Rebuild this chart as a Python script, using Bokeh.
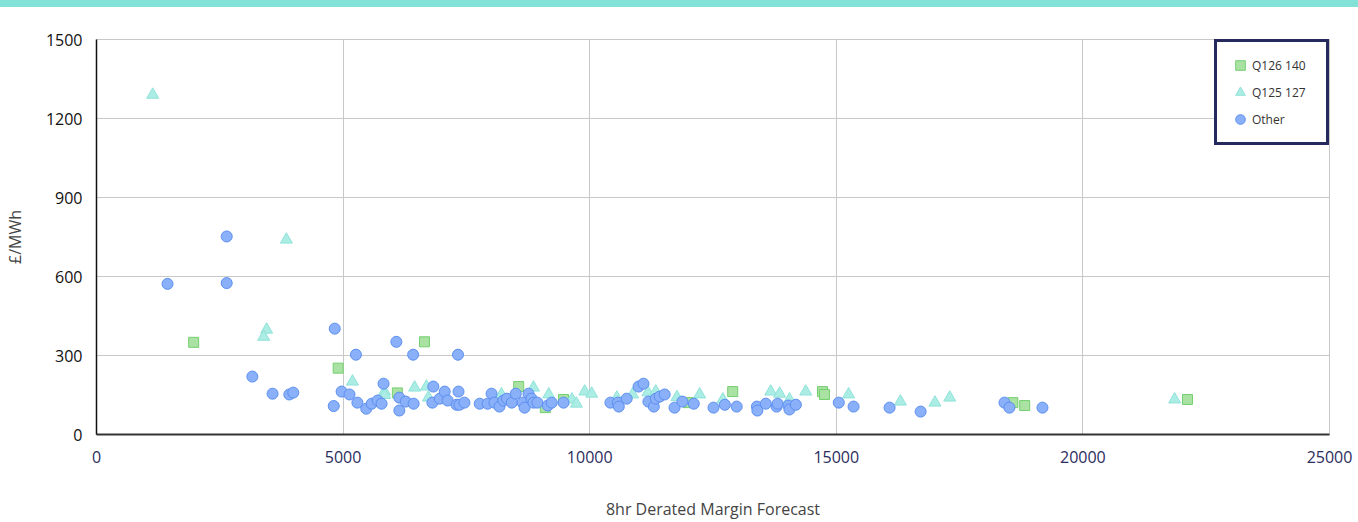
from bokeh.plotting import figure
from bokeh.models import Range1d, FixedTicker, Legend, Div
from bokeh.layouts import column
from bokeh.embed import file_html
from bokeh.resources import INLINE

# ---- data ----
q126_x = [1970, 4900, 6650, 6100, 8560, 9100, 9470, 12000, 12900, 14720, 14760, 18580, 18820, 22120]
q126_y = [350, 252, 352, 158, 182, 102, 133, 121, 163, 163, 152, 121, 110, 133]

q125_x = [1140, 3850, 3450, 3390, 5190, 5840, 5840, 6450, 6690, 6730, 8210, 8860, 9170, 9640,
          9730, 9900, 10040, 10550, 10870, 11180, 11340, 11770, 12230, 12700, 13670, 13850,
          14050, 14380, 15250, 16300, 17000, 17300, 21860]
q125_y = [1290, 740, 398, 371, 201, 163, 150, 178, 182, 140, 152, 178, 152, 133,
          117, 163, 155, 140, 152, 160, 163, 142, 152, 133, 163, 155,
          133, 163, 152, 125, 121, 140, 133]

other_x = [1440, 2640, 2640, 3160, 3570, 3910, 3990, 4830, 4810, 4970, 5130, 5290, 5470, 5580,
           5700, 5780, 5820, 6080, 6140, 6140, 6270, 6430, 5260, 6420, 7330, 6830, 6810, 6960,
           7060, 7120, 7300, 7340, 7360, 7460, 7770, 7930, 8010, 8070, 8170, 8250, 8320, 8420,
           8500, 8640, 8680, 8760, 8820, 8860, 8940, 9150, 9230, 9470, 10420, 10570, 10590,
           10750, 10990, 11090, 11190, 11300, 11340, 11420, 11520, 11720, 11880, 12110, 12510,
           12740, 12980, 13390, 13400, 13570, 13790, 13810, 14030, 14050, 14180, 15050, 15350,
           16080, 16710, 18410, 18510, 19180]
other_y = [572, 752, 575, 220, 155, 152, 159, 402, 108, 163, 152, 121, 98, 117,
           129, 117, 193, 352, 140, 91, 125, 117, 303, 303, 303, 182, 121, 136,
           163, 129, 113, 163, 113, 121, 117, 117, 155, 121, 106, 129, 136, 121,
           155, 121, 102, 155, 136, 121, 121, 110, 121, 121, 121, 121, 106,
           136, 182, 193, 125, 106, 136, 144, 152, 102, 125, 117, 102,
           113, 106, 106, 91, 117, 106, 117, 110, 95, 113, 121, 106,
           102, 87, 121, 102, 102]

x_ticks = [0, 5000, 10000, 15000, 20000, 25000]
y_ticks = [0, 300, 600, 900, 1200, 1500]
series_labels = ["Q126 140", "Q125 127", "Other"]
x_title = "8hr Derated Margin Forecast"
y_title = "£/MWh"

FONT = "Open Sans"
TEAL = "#82e2d8"

# thin teal band pinned to the top of the page (takes no layout space)
band = Div(text="", width=0, height=0, margin=0,
           styles={"position": "fixed", "top": "0px", "left": "0px", "margin": "0px",
                   "width": "1358px", "height": "7px", "background-color": TEAL,
                   "z-index": "10"})

p = figure(width=1358, height=522, output_backend="svg", toolbar_location=None,
           x_range=Range1d(0, 25000), y_range=Range1d(0, 1500),
           min_border_left=96, min_border_right=29, min_border_top=39, min_border_bottom=87)
p.outline_line_color = "#c8c8c8"
p.background_fill_color = "white"
p.border_fill_color = "white"

r1 = p.scatter(q126_x, q126_y, marker="square", size=10, fill_color="#a9e2a3",
               line_color="#74cf70", line_width=1)
r2 = p.scatter(q125_x, q125_y, marker="triangle", size=12, fill_color="#abece4",
               line_color="#8fe3d9", line_width=1)
r3 = p.scatter(other_x, other_y, marker="circle", size=11, fill_color="#8ab0f9",
               line_color="#5b8ef0", line_width=1)

legend = Legend(items=[(series_labels[0], [r1]), (series_labels[1], [r2]), (series_labels[2], [r3])],
                location="top_right", margin=0, padding=11, spacing=3,
                label_height=24, glyph_height=24, glyph_width=24, label_standoff=0,
                label_width=63, label_text_font_size="12px", label_text_color="#333333",
                label_text_font=FONT,
                border_line_color="#252a5c", border_line_width=3, border_line_alpha=1,
                background_fill_color="white", background_fill_alpha=1)
p.add_layout(legend)

# axes
p.xaxis.ticker = FixedTicker(ticks=x_ticks)
p.yaxis.ticker = FixedTicker(ticks=y_ticks)
for ax in (p.xaxis, p.yaxis):
    ax.major_tick_line_color = None
    ax.minor_tick_line_color = None
    ax.major_label_text_font = FONT
    ax.major_label_text_font_size = "16px"
    ax.axis_label_text_font = FONT
    ax.axis_label_text_font_style = "normal"
    ax.axis_label_text_color = "#444444"

p.xaxis.axis_line_color = "#333333"
p.xaxis.axis_line_width = 2
p.xaxis.major_label_text_color = "#2a2d5e"
p.xaxis.major_label_standoff = 10
p.xaxis.axis_label = x_title
p.xaxis.axis_label_text_font_size = "16px"
p.xaxis.axis_label_standoff = 32

p.yaxis.axis_line_color = "#111111"
p.yaxis.axis_line_width = 1.5
p.yaxis.major_label_text_color = "#111111"
p.yaxis.major_label_standoff = 8
p.yaxis.axis_label = y_title
p.yaxis.axis_label_text_font_size = "16px"
p.yaxis.axis_label_standoff = 17

p.xgrid.grid_line_color = "#c8c8c8"
p.ygrid.grid_line_color = "#c8c8c8"

layout = column(band, p, spacing=0)

open("out.html", "w").write(file_html(layout, INLINE))
